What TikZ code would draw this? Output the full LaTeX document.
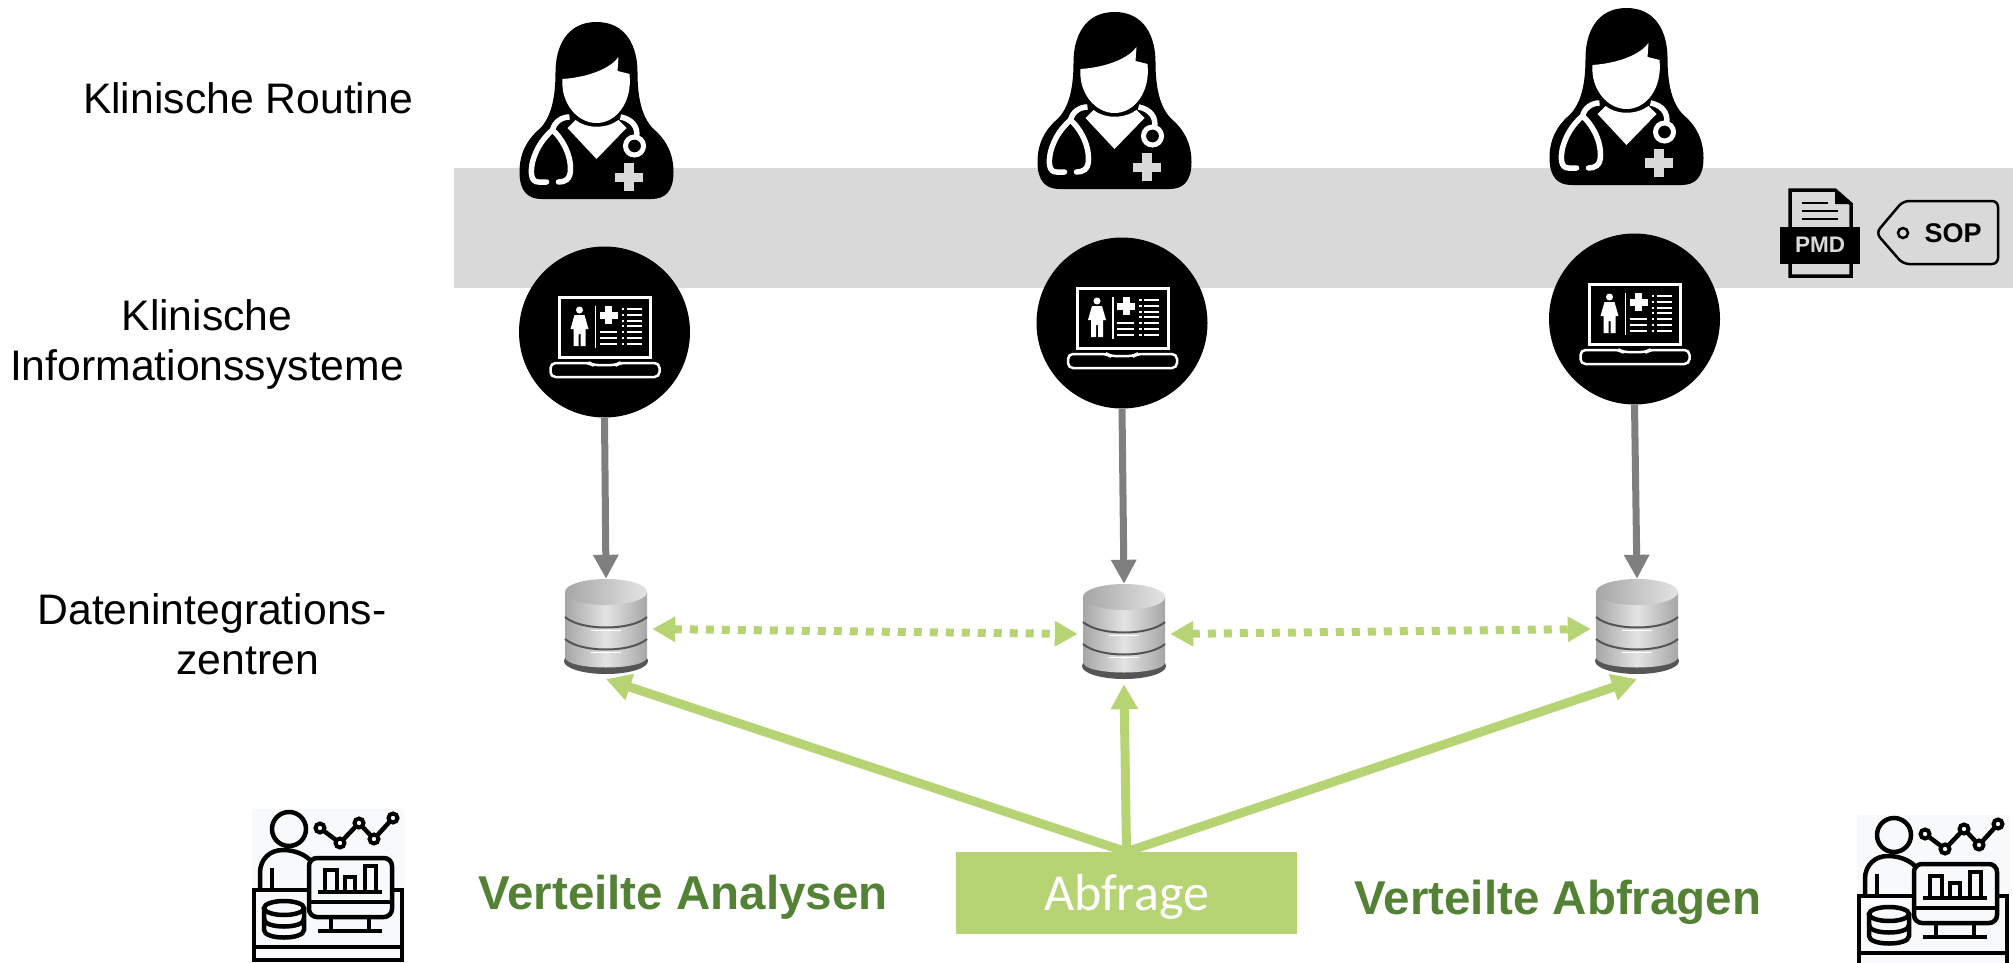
\documentclass[tikz,border=0pt]{standalone}
\usepackage{fontspec}
\setmainfont{Liberation Sans}
\newfontfamily\carlito{Carlito}
\usetikzlibrary{arrows.meta}
\definecolor{bandgray}{HTML}{D9D9D9}
\definecolor{arrowgray}{HTML}{7F7F7F}
\definecolor{lightgreen}{HTML}{B6D474}
\definecolor{darkgreen}{HTML}{548235}
\definecolor{dbdark}{HTML}{A6A6A6}
\definecolor{dblight}{HTML}{E4E4E4}
\definecolor{dbline}{HTML}{555555}
\definecolor{iconbg}{HTML}{F8F9FB}
\tikzset{
  label/.style={font=\fontsize{42.7}{50}\selectfont},
  greentext/.style={font=\fontsize{47.5}{56}\selectfont\bfseries,text=darkgreen},
  lapnode/.style={circle,fill=black,minimum size=171pt,inner sep=0pt},
  dbnode/.style={rectangle,minimum width=92pt,minimum height=100pt,inner sep=0pt},
  grayarrow/.style={draw=arrowgray,line width=7pt,-{Triangle[length=24pt,width=24pt]}},
  dotarrow/.style={draw=lightgreen,line width=8pt,dash pattern=on 8pt off 8pt,{Triangle[length=23pt,width=24pt]}-{Triangle[length=23pt,width=24pt]}},
  greenarrow/.style={draw=lightgreen,line width=9pt,-{Triangle[length=25pt,width=26pt]}},
  anline/.style={draw=black,line width=4.5pt},
  doctor/.pic={
    \fill[black] (0,0) .. controls (-30,0) and (-41,25) .. (-41,50) .. controls (-41,75) and (-45,95) .. (-57,107)
      .. controls (-70,118) and (-77,132) .. (-77,150) .. controls (-77,170) and (-68,177) .. (-55,177)
      -- (55,177) .. controls (68,177) and (77,170) .. (77,150) .. controls (77,132) and (70,118) .. (57,107)
      .. controls (45,95) and (41,75) .. (41,50) .. controls (41,25) and (30,0) .. (0,0) -- cycle;
    % face and collar
    \fill[white] (-34,57) .. controls (-5,55) and (15,45) .. (22,35) -- (21,49) -- (33,52)
      .. controls (36,80) and (20,101) .. (0,101) .. controls (-20,101) and (-36,80) .. (-34,57) -- cycle;
    \fill[white] (-21,98) .. controls (-10,107) and (10,107) .. (22,98) -- (30,106) -- (0,137) -- (-29,106) -- cycle;
    % stethoscope
    \draw[white,line width=5.5pt,line cap=round] (-50,160) -- (-58,160) .. controls (-66,160) and (-66,150) .. (-64,140)
      .. controls (-60,125) and (-52,115) .. (-44,108) .. controls (-36,115) and (-26,130) .. (-26,147)
      .. controls (-26,158) and (-32,160) .. (-38,160);
    \draw[white,line width=5.5pt] (-44,108) .. controls (-42,100) and (-35,95) .. (-27,95);
    \draw[white,line width=5.5pt] (24,95) .. controls (35,97) and (42,105) .. (40,115);
    \draw[white,line width=5pt] (38,124) circle (9);
    \fill[bandgray] (27.5,141) rectangle (37,169);
    \fill[bandgray] (18,150.5) rectangle (46,160);
  },
  laptop/.pic={
    \draw[white,line width=3pt] (-45,-35) rectangle (46,25);
    \draw[white,line width=2.5pt,rounded corners=5pt] (-54,31) -- (-15,31) -- (-12,33) -- (12,33) -- (15,31) -- (55,31) -- (55,45) -- (-54,45) -- cycle;
    \fill[white] (-25,-22) circle (3.5);
    \fill[white] (-30,-17) -- (-20,-17) -- (-16,-3) -- (-19,-3) -- (-19,14) -- (-24,14) -- (-24,2) -- (-26,2) -- (-26,14) -- (-31,14) -- (-31,-3) -- (-34,-3) -- cycle;
    \draw[white,line width=1.5pt] (-9,-26) -- (-9,16);
    \fill[white] (0.5,-26) rectangle (7.5,-8);
    \fill[white] (-5,-20.5) rectangle (13,-13.5);
    \foreach \ly in {-23,-17,-11,-6,0,6,12} {
      \draw[white,line width=2pt] (22,\ly) -- (37,\ly);
      \fill[white] (17,\ly-1.2) rectangle (19.5,\ly+1.2);
    }
    \foreach \ly in {0,6,12} {
      \draw[white,line width=2pt] (-5,\ly) -- (12,\ly);
    }
  },
  dbicon/.pic={
    \fill[dbline] (0,82) ellipse [x radius=42,y radius=13];
    \shade[left color=dbdark,right color=dbdark,middle color=dblight] (-41,13) -- (-41,78) .. controls (-41,92) and (41,92) .. (41,78) -- (41,13) -- cycle;
    \foreach \ly in {38,60} {
      \draw[dbline,line width=2pt] (-41,\ly) .. controls (-25,\ly+14) and (25,\ly+14) .. (41,\ly);
      \draw[white,line width=1pt] (-15,\ly+13) -- (15,\ly+13);
    }
    \shade[left color=dbdark,right color=dblight] (0,13) ellipse [x radius=41,y radius=13];
  },
  analyst/.pic={
    \fill[iconbg] (0,0) rectangle (153,154);
    \draw[anline] (37,20) circle (17);
    \draw[anline] (8,81) -- (8,64) .. controls (8,50) and (18,41) .. (31,41) .. controls (42,41) and (52,45) .. (58,51);
    \draw[anline] (20,59) -- (20,81);
    \draw[anline] (58,81) -- (2,81) -- (2,151) -- (150,151) -- (150,81) -- (140,81);
    \draw[anline] (2,138) -- (150,138);
    \draw[anline,rounded corners=8pt] (57,49) rectangle (140,108);
    \draw[anline] (57,93) -- (140,93);
    \draw[anline] (79,108) -- (79,122);
    \draw[anline] (117,108) -- (117,122);
    \draw[anline] (66,122) -- (130,122);
    \draw[anline] (66,83) -- (130,83);
    \draw[anline] (73,83) -- (73,61) -- (85,61) -- (85,83);
    \draw[anline] (93,83) -- (93,68) -- (103,68) -- (103,83);
    \draw[anline] (113,83) -- (113,57) -- (124,57) -- (124,83);
    \draw[anline] (68,19) -- (88,34) -- (107,14) -- (122,30) -- (141,9);
    \foreach \px/\py in {68/19,88/34,107/14,122/30,141/9} {
      \filldraw[fill=iconbg,draw=black,line width=4pt] (\px,\py) circle (4.5);
    }
    % database on the desk
    \draw[anline] (12,99) -- (12,121) .. controls (12,131) and (52,131) .. (52,121) -- (52,99);
    \draw[anline] (32,99) ellipse [x radius=20,y radius=7];
    \draw[anline] (12,110) .. controls (12,120) and (52,120) .. (52,110);
  }
}
\begin{document}
\begin{tikzpicture}[x=1pt,y=-1pt]
\useasboundingbox (0,0) rectangle (2013,963);
\clip (0,0) rectangle (2013,963);
\fill[bandgray] (454,168) rectangle (2013,288);

\node[label] (routine) at (248,98) {Klinische Routine};
\node[label,align=center] (kis) at (207,344) {Klinische\\Informationssysteme};
\node[label,align=left] (diz) at (212,634) {Datenintegrations-\\\hspace*{139pt}zentren};

\foreach \n/\xa/\ya/\xb/\yb/\xc/\yc in {1/596.5/22/604.5/332/606/629,2/1114.5/12/1122/323/1124/634,3/1626.5/8/1634.5/319/1637/629} {
  \pic at (\xa,\ya) {doctor};
  \node[lapnode] (lap\n) at (\xb,\yb) {};
  \pic at (\xb,\yb) {laptop};
  \pic at (\xc,\yc-50) {dbicon};
  \node[dbnode] (db\n) at (\xc,\yc) {};
  \draw[grayarrow] (lap\n.south) -- (db\n.north);
}

\draw[dotarrow] (db1.east) -- (db2.west);
\draw[dotarrow] (db2.east) -- (db3.west);

\node[rectangle,fill=lightgreen,minimum width=341pt,minimum height=82pt,inner sep=0pt,text=white,font=\fontsize{52}{60}\selectfont\carlito] (abf) at (1126.5,893) {\raisebox{0pt}[44pt][10pt]{Abfrage}};
\draw[greenarrow] (abf.north) -- (db1.south);
\draw[greenarrow] (abf.north) -- (db2.south);
\draw[greenarrow] (abf.north) -- (db3.south);

\node[greentext] (analysen) at (683,897) {Verteilte Analysen};
\node[greentext] (abfragen) at (1558,902) {Verteilte Abfragen};

\pic at (252,809) {analyst};
\pic at (1857,815) {analyst};

% PMD file
\draw[black,line width=3.5pt,fill=bandgray] (1790,276) -- (1790,190) -- (1835,190) -- (1851,204) -- (1851,276) -- cycle;
\fill[black] (1835,190) -- (1835,204) -- (1851,204) -- cycle;
\draw[black,line width=2.5pt] (1802,203) -- (1828,203);
\draw[black,line width=2.5pt] (1802,211) -- (1838,211);
\draw[black,line width=2.5pt] (1802,219) -- (1838,219);
\node[rectangle,fill=black,minimum width=80pt,minimum height=37pt,inner sep=0pt,text=bandgray,font=\fontsize{22.5}{26}\selectfont\bfseries] (pmd) at (1820,245) {PMD};

% SOP tag
\draw[black,line width=2.5pt,rounded corners=6pt] (1876,233) -- (1903,201) -- (1998,201) -- (1998,264) -- (1903,264) -- cycle;
\draw[black,line width=2.5pt] (1903,233) circle (5);
\node[font=\fontsize{27}{30}\selectfont\bfseries,text=black] (sop) at (1953,233) {SOP};
\end{tikzpicture}
\end{document}
